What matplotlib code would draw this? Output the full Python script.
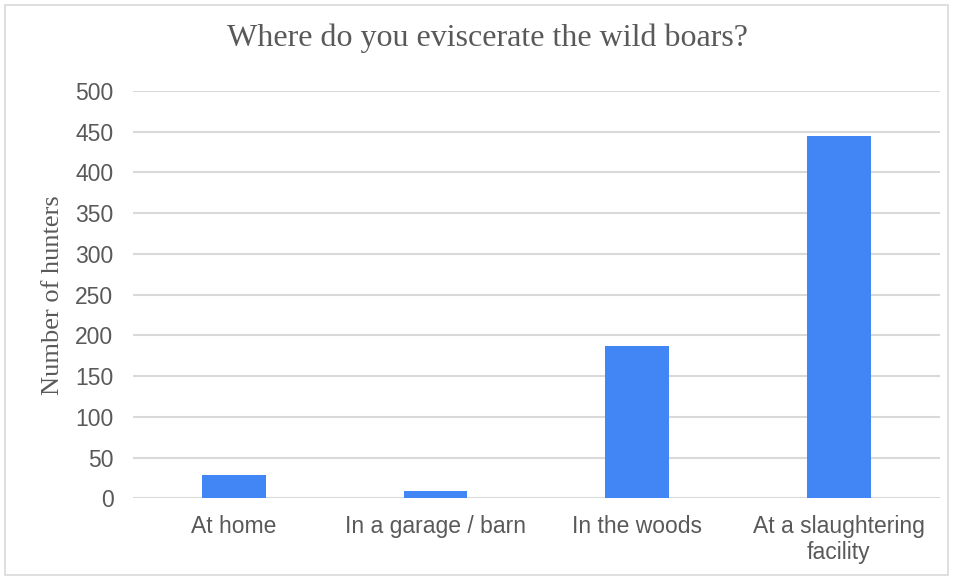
import matplotlib.pyplot as plt
from matplotlib.patches import Rectangle

categories = ['At home', 'In a garage / barn', 'In the woods', 'At a slaughtering\nfacility']
hunters = [28, 9, 187, 445]
yticks = [0, 50, 100, 150, 200, 250, 300, 350, 400, 450, 500]

text_color = '#595959'
bar_color = '#4285f4'
grid_color = '#d9d9d9'

fig = plt.figure(figsize=(9.56, 5.8), dpi=100)
ax = fig.add_axes([0.139, 0.141, 0.844, 0.702])

x = range(len(categories))
ax.bar(x, hunters, width=0.315, color=bar_color, zorder=3)

ax.set_ylim(0, 500)
ax.set_xlim(-0.5, len(categories) - 0.5)
ax.set_yticks(yticks)
ax.set_xticks(list(x))
ax.set_xticklabels(categories, family='Liberation Sans', fontsize=16.5, color=text_color,
                   linespacing=1.2)
for lab in ax.get_yticklabels():
    lab.set_family('Liberation Sans')
    lab.set_fontsize(16.5)
    lab.set_color(text_color)

ax.grid(axis='y', color=grid_color, linewidth=1.5, zorder=0)
ax.tick_params(length=0)
ax.tick_params(axis='x', pad=12)
ax.tick_params(axis='y', pad=14)
for s in ax.spines.values():
    s.set_visible(False)

ax.set_ylabel('Number of hunters', family='Liberation Serif', fontsize=19,
              color=text_color, labelpad=8)
fig.text(0.51, 0.934, 'Where do you eviscerate the wild boars?', ha='center', va='center',
         family='Liberation Serif', fontsize=23, color=text_color)

# light border round the whole chart
fig.patches.append(Rectangle((0.005, 0.008), 0.987, 0.984, transform=fig.transFigure,
                             fill=False, edgecolor='#d9d9d9', linewidth=1.2))

fig.savefig('out.png', dpi=100)
